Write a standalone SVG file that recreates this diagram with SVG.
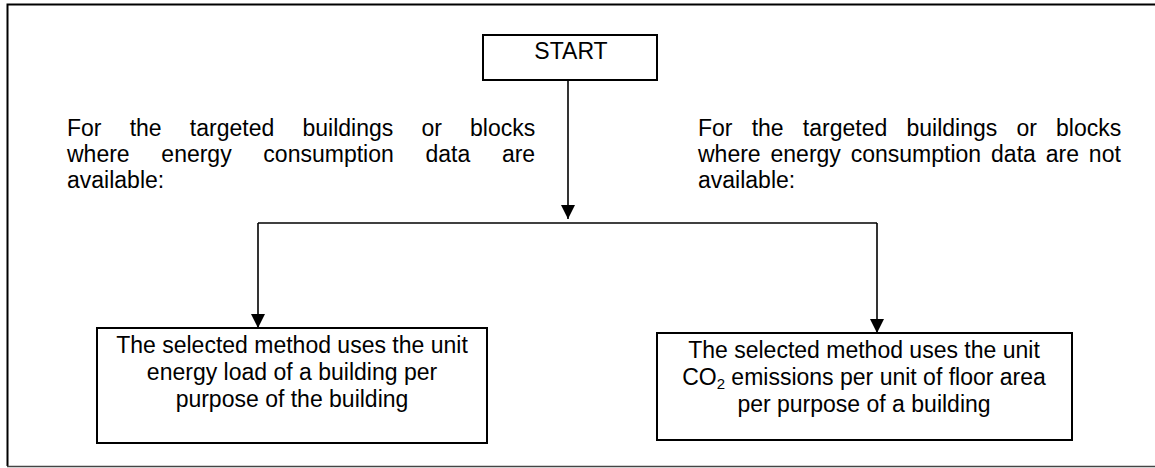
<svg xmlns="http://www.w3.org/2000/svg" width="1155" height="468" viewBox="0 0 1155 468">
<style>
text{font-family:"Liberation Sans",Arial,sans-serif;font-size:23px;fill:#000}
.box{fill:#fff;stroke:#000;stroke-width:2}
.ln{fill:none;stroke:#000;stroke-width:1.6}
.c{text-anchor:middle}
</style>
<defs>
<marker id="arr" markerWidth="14" markerHeight="14" refX="14" refY="7" orient="auto" markerUnits="userSpaceOnUse" viewBox="0 0 14 14">
<path d="M0,0 L14,7 L0,14 Z" fill="#000"/>
</marker>
</defs>
<rect x="0" y="0" width="1155" height="468" fill="#fff"/>
<g id="frame">
<path d="M1156,4.5 H7.5 V466" fill="none" stroke="#000" stroke-width="2"/>
<path d="M7,466.5 H1156" fill="none" stroke="#444" stroke-width="1.5"/>
</g>
<g id="connectors">
<path class="ln" d="M568,80 V219" marker-end="url(#arr)"/>
<path class="ln" d="M258,223 H877"/>
<path class="ln" d="M258,223 V328" marker-end="url(#arr)"/>
<path class="ln" d="M877,223 V333" marker-end="url(#arr)"/>
</g>
<g id="start">
<rect class="box" x="483" y="35" width="174" height="45"/>
<text class="c" x="571" y="59">START</text>
</g>
<g id="label-left">
<text x="67" y="136" word-spacing="21.8">For the targeted buildings or blocks</text>
<text x="67" y="162" word-spacing="25.3">where energy consumption data are</text>
<text x="67" y="188">available:</text>
</g>
<g id="label-right">
<text x="698" y="136" word-spacing="12.8">For the targeted buildings or blocks</text>
<text x="698" y="162" word-spacing="3.5">where energy consumption data are not</text>
<text x="698" y="188">available:</text>
</g>
<g id="box-left">
<rect class="box" x="97" y="328" width="390" height="115"/>
<text class="c" x="292" y="353">The selected method uses the unit</text>
<text class="c" x="292" y="380">energy load of a building per</text>
<text class="c" x="292" y="407">purpose of the building</text>
</g>
<g id="box-right">
<rect class="box" x="657" y="333" width="415" height="107"/>
<text class="c" x="864" y="358">The selected method uses the unit</text>
<text class="c" x="864" y="385">CO<tspan font-size="15" dy="4">2</tspan><tspan dy="-4"> emissions per unit of floor area</tspan></text>
<text class="c" x="864" y="412">per purpose of a building</text>
</g>
</svg>
